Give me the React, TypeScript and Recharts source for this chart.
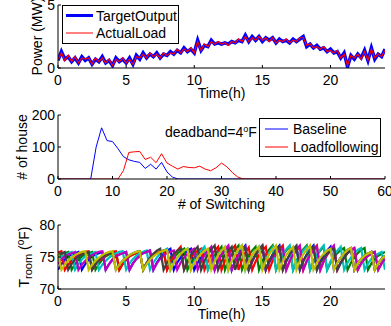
import React from 'react';
import { LineChart, Line, XAxis, YAxis, Legend } from 'recharts';

const FONT = '"Liberation Sans", Arial, Helvetica, sans-serif';
const FS = 14;

// ---------------- Panel 1: power (MW), sampled every 15 min over 24 h ----------------
const hourTicks = [0, 5, 10, 15, 20];
const powerTicks = [0, 5];
const targetOutputMW = [
  0.6, 1.3, 0.7, 0.9, 0.5, 0.8, 0.4, 0.9, 0.6, 0.8,
  0.3, 0.7, 0.5, 0.9, 0.4, 0.6, 0.2, 0.8, 0.5, 0.7,
  0.4, 0.8, 0.3, 1.0, 0.7, 1.2, 0.8, 1.1, 0.9, 1.2,
  0.8, 1.1, 1.0, 1.3, 1.1, 1.4, 1.2, 1.6, 1.3, 1.5,
  1.2, 2.2, 1.4, 1.8, 1.7, 2.2, 1.9, 2.0, 1.9, 2.0,
  1.9, 2.1, 2.0, 2.2, 2.1, 2.6, 2.1, 2.5, 2.2, 2.5,
  2.1, 2.4, 2.2, 2.4, 2.0, 2.3, 2.1, 2.2, 2.0, 2.3,
  2.1, 2.3, 2.5, 1.7, 1.9, 1.6, 1.8, 1.5, 1.6, 1.3,
  1.5, 1.2, 1.3, 0.8, 1.2, 0.1, 1.0, 0.7, 1.1, 0.8,
  1.4, 0.6, 1.6, 0.7, 1.1, 0.9, 1.5,
];
const actualLoadMW = [
  0.7, 1.2, 0.6, 1.0, 0.5, 0.9, 0.4, 0.8, 0.7, 0.8,
  0.3, 0.8, 0.5, 0.8, 0.4, 0.7, 0.2, 0.7, 0.5, 0.8,
  0.4, 0.7, 0.3, 0.9, 0.8, 1.1, 0.8, 1.2, 0.9, 1.1,
  0.8, 1.2, 1.0, 1.2, 1.1, 1.5, 1.2, 1.5, 1.3, 1.6,
  1.2, 2.1, 1.4, 1.9, 1.7, 2.1, 1.9, 2.1, 1.9, 2.0,
  1.8, 2.1, 2.0, 2.3, 2.1, 2.5, 2.1, 2.4, 2.2, 2.5,
  2.2, 2.4, 2.1, 2.4, 2.0, 2.2, 2.1, 2.3, 2.0, 2.2,
  2.1, 2.4, 2.4, 1.8, 1.9, 1.6, 1.7, 1.5, 1.7, 1.3,
  1.4, 1.2, 1.4, 0.8, 1.1, 0.2, 1.0, 0.8, 1.1, 0.7,
  1.3, 0.6, 1.5, 0.8, 1.1, 0.9, 1.4,
];
const SAMPLE_HOURS = 0.25;

// ---------------- Panel 2: histogram of number of switchings (0..60) ----------------
const switchTicks = [0, 10, 20, 30, 40, 50, 60];
const houseTicks = [0, 100, 200];
const baselineHouses = [
  0, 0, 0, 0, 0, 0, 0, 100, 160, 120,
  117, 95, 70, 60, 55, 52, 33, 46, 31, 52,
  22, 6, 0, 0, 0, 0, 0, 0, 0, 0,
  0, 0, 0, 0, 0, 0, 0, 0, 0, 0,
  0, 0, 0, 0, 0, 0, 0, 0, 0, 0,
  0, 0, 0, 0, 0, 0, 0, 0, 0, 0,
  0,
];
const loadFollowingHouses = [
  0, 0, 0, 0, 0, 0, 0, 0, 0, 0,
  0, 0, 26, 83, 85, 86, 61, 68, 51, 79,
  50, 40, 31, 39, 36, 35, 40, 31, 26, 35,
  50, 38, 20, 6, 0, 0, 0, 0, 0, 0,
  0, 0, 0, 0, 0, 0, 0, 0, 0, 0,
  0, 0, 0, 0, 0, 0, 0, 0, 0, 0,
  0,
];

// ---------------- Panel 3: room temperatures (°F), every 15 min ----------------
const roomTicks = [70, 75, 80];
const roomBlue = [
  73.0, 73.9, 74.6, 75.1, 75.4, 75.6, 75.8,
  73.0, 73.9, 74.6, 75.1, 75.4, 75.6, 75.8,
  73.0, 73.9, 74.6, 75.1, 75.4, 75.6, 75.8,
  73.0, 74.0, 74.7, 75.2, 75.6, 75.8, 76.0,
  73.0, 74.1, 74.9, 75.5, 76.0, 76.3,
  73.0, 74.1, 74.9, 75.5, 76.0, 76.3,
  73.0, 74.1, 74.9, 75.5, 76.0, 76.3,
  73.0, 74.3, 75.3, 76.0, 76.6,
  73.0, 74.4, 75.4, 76.2, 76.8,
  73.0, 74.3, 75.3, 76.0, 76.6,
  73.0, 74.4, 75.4, 76.2, 76.8,
  73.0, 74.3, 75.3, 76.0, 76.6,
  73.0, 74.4, 75.4, 76.2, 76.8,
  73.0, 74.3, 75.3, 76.0, 76.6,
  73.0, 74.1, 74.9, 75.6, 76.1, 76.4,
  73.0, 74.0, 74.7, 75.2, 75.5, 75.8,
  73.0, 74.0, 74.7, 75.2,
];
const roomGreen = [
  75.1, 75.4, 75.6, 75.8,
  73.0, 73.9, 74.6, 75.1, 75.4, 75.6, 75.8,
  73.0, 73.9, 74.6, 75.1, 75.4, 75.6, 75.8,
  73.0, 73.9, 74.6, 75.1, 75.4, 75.6, 75.8,
  73.0, 74.0, 74.7, 75.2, 75.6, 75.8, 76.0,
  73.0, 74.1, 74.9, 75.5, 76.0, 76.3,
  73.0, 74.1, 74.9, 75.5, 76.0, 76.3,
  73.0, 74.3, 75.3, 76.0, 76.6,
  73.0, 74.4, 75.4, 76.2, 76.8,
  73.0, 74.3, 75.3, 76.0, 76.6,
  73.0, 74.4, 75.4, 76.2, 76.8,
  73.0, 74.3, 75.3, 76.0, 76.6,
  73.0, 74.4, 75.4, 76.2, 76.8,
  73.0, 74.3, 75.3, 76.0, 76.6,
  73.0, 74.1, 74.9, 75.6, 76.1, 76.4,
  73.0, 74.1, 74.9, 75.6, 76.1, 76.4,
  73.0, 74.0, 74.7, 75.2, 75.5, 75.8,
];
const roomRed = [
  75.7, 75.9,
  73.0, 73.8, 74.4, 74.9, 75.3, 75.6, 75.8, 75.9,
  73.0, 73.8, 74.4, 74.9, 75.3, 75.6, 75.8, 75.9,
  73.0, 73.9, 74.6, 75.1, 75.4, 75.6, 75.8,
  73.0, 74.0, 74.7, 75.2, 75.6, 75.8, 76.0,
  73.0, 74.3, 75.3, 76.0, 76.6,
  73.0, 74.1, 74.9, 75.5, 76.0, 76.3,
  73.0, 74.3, 75.3, 76.0, 76.6,
  73.0, 74.4, 75.4, 76.2, 76.8,
  73.0, 74.5, 75.7, 76.5,
  73.0, 74.3, 75.3, 76.0, 76.6,
  73.0, 74.4, 75.4, 76.2, 76.8,
  73.0, 74.3, 75.3, 76.0, 76.6,
  73.0, 74.4, 75.4, 76.2, 76.8,
  73.0, 74.3, 75.3, 76.0, 76.6,
  73.0, 74.1, 74.9, 75.6, 76.1, 76.4,
  73.0, 74.0, 74.7, 75.2, 75.5, 75.8,
  73.0, 74.0, 74.7,
];
const roomCyan = [
  74.6, 75.1, 75.4, 75.6, 75.8,
  73.0, 73.9, 74.6, 75.1, 75.4, 75.6, 75.8,
  73.0, 73.8, 74.4, 74.9, 75.3, 75.6, 75.8, 75.9,
  73.0, 74.0, 74.7, 75.2, 75.6, 75.8, 76.0,
  73.0, 74.1, 74.9, 75.5, 76.0, 76.3,
  73.0, 74.1, 74.9, 75.5, 76.0, 76.3,
  73.0, 74.3, 75.3, 76.0, 76.6,
  73.0, 74.1, 74.9, 75.5, 76.0, 76.3,
  73.0, 74.4, 75.4, 76.2, 76.8,
  73.0, 74.3, 75.3, 76.0, 76.6,
  73.0, 74.5, 75.7, 76.5,
  73.0, 74.4, 75.4, 76.2, 76.8,
  73.0, 74.3, 75.3, 76.0, 76.6,
  73.0, 74.4, 75.4, 76.2, 76.8,
  73.0, 74.3, 75.3, 76.0, 76.6,
  73.0, 74.1, 74.9, 75.6, 76.1, 76.4,
  73.0, 74.0, 74.7, 75.2, 75.5, 75.8,
  73.0,
];
const roomMagenta = [
  73.9, 74.6, 75.1, 75.4, 75.6, 75.8,
  73.0, 73.8, 74.4, 74.9, 75.3, 75.6, 75.8, 75.9,
  73.0, 73.9, 74.6, 75.1, 75.4, 75.6, 75.8,
  73.0, 74.0, 74.7, 75.2, 75.6, 75.8, 76.0,
  73.0, 74.0, 74.7, 75.2, 75.6, 75.8, 76.0,
  73.0, 74.1, 74.9, 75.5, 76.0, 76.3,
  73.0, 74.3, 75.3, 76.0, 76.6,
  73.0, 74.4, 75.4, 76.2, 76.8,
  73.0, 74.3, 75.3, 76.0, 76.6,
  73.0, 74.4, 75.4, 76.2, 76.8,
  73.0, 74.1, 74.9, 75.5, 76.0, 76.3,
  73.0, 74.4, 75.4, 76.2, 76.8,
  73.0, 74.3, 75.3, 76.0, 76.6,
  73.0, 74.4, 75.4, 76.2, 76.8,
  73.0, 74.1, 74.9, 75.6, 76.1, 76.4,
  73.0, 74.0, 74.7, 75.2, 75.5, 75.8,
  73.0, 74.0, 74.7,
];
const roomGray = [
  75.4, 75.6, 75.8,
  73.0, 73.9, 74.6, 75.1, 75.4, 75.6, 75.8,
  73.0, 73.9, 74.6, 75.1, 75.4, 75.6, 75.8,
  73.0, 73.8, 74.4, 74.9, 75.3, 75.6, 75.8, 75.9,
  73.0, 74.1, 74.9, 75.5, 76.0, 76.3,
  73.0, 74.1, 74.9, 75.5, 76.0, 76.3,
  73.0, 74.3, 75.3, 76.0, 76.6,
  73.0, 74.4, 75.4, 76.2, 76.8,
  73.0, 74.3, 75.3, 76.0, 76.6,
  73.0, 74.5, 75.7, 76.5,
  73.0, 74.4, 75.4, 76.2, 76.8,
  73.0, 74.3, 75.3, 76.0, 76.6,
  73.0, 74.4, 75.4, 76.2, 76.8,
  73.0, 74.3, 75.3, 76.0, 76.6,
  73.0, 74.1, 74.9, 75.5, 76.0, 76.3,
  73.0, 74.1, 74.9, 75.6, 76.1,
  73.0, 74.0, 74.7, 75.2, 75.5, 75.8,
  73.0, 74.0, 74.7, 75.2,
];
const roomYellow = [
  75.6,
  73.0, 73.8, 74.4, 74.9, 75.3, 75.6, 75.8, 75.9,
  73.0, 73.8, 74.4, 74.9, 75.3, 75.6, 75.8, 75.9,
  73.0, 73.8, 74.4, 74.9, 75.3, 75.6, 75.8, 75.9,
  73.0, 73.9, 74.6, 75.1, 75.5, 75.8, 76.0, 76.1,
  73.0, 74.1, 74.9, 75.5, 76.0, 76.3,
  73.0, 74.1, 74.9, 75.5, 76.0, 76.3,
  73.0, 74.3, 75.3, 76.0, 76.6,
  73.0, 74.4, 75.4, 76.2, 76.8,
  73.0, 74.3, 75.3, 76.0, 76.6,
  73.0, 74.4, 75.4, 76.2, 76.8,
  73.0, 74.3, 75.3, 76.0, 76.6,
  73.0, 74.4, 75.4, 76.2, 76.8,
  73.0, 74.1, 74.9, 75.5, 76.0, 76.3,
  73.0, 74.1, 74.9, 75.6, 76.1, 76.4,
  73.0, 74.0, 74.7, 75.2, 75.5, 75.8,
  73.0, 74.0, 74.7, 75.2,
];

const roomSeries = [
  { key: 'blue', values: roomBlue, color: '#0000ff' },
  { key: 'green', values: roomGreen, color: '#008000' },
  { key: 'red', values: roomRed, color: '#ff0000' },
  { key: 'cyan', values: roomCyan, color: '#00bfbf' },
  { key: 'magenta', values: roomMagenta, color: '#bf00bf' },
  { key: 'gray', values: roomGray, color: '#404040' },
  { key: 'yellow', values: roomYellow, color: '#bfbf00' },
];

// ---------------- tables built from the arrays ----------------
const powerData = targetOutputMW.map((v, i) => ({
  t: i * SAMPLE_HOURS,
  target: v,
  actual: actualLoadMW[i],
}));
const switchData = baselineHouses.map((v, i) => ({
  n: i,
  baseline: v,
  loadfollowing: loadFollowingHouses[i],
}));
const roomData = roomBlue.map((_, i) => {
  const row: Record<string, number> = { t: i * SAMPLE_HOURS };
  roomSeries.forEach((s) => {
    row[s.key] = s.values[i];
  });
  return row;
});

// ---------------- axis helpers ----------------
const txt = { fontSize: FS, fontFamily: FONT, fill: '#000' };

const XTickBottom = (props: any) => {
  const { x, y, payload } = props;
  return (
    <g>
      <line x1={x} x2={x} y1={y} y2={y - 3} stroke="#000" strokeWidth={1} />
      <text x={x} y={y + 17} textAnchor="middle" {...txt}>
        {payload.value}
      </text>
    </g>
  );
};
const XTickTop = (props: any) => {
  const { x, y } = props;
  return <line x1={x} x2={x} y1={y} y2={y + 3} stroke="#000" strokeWidth={1} />;
};
const YTickLeft = (props: any) => {
  const { x, y, payload } = props;
  return (
    <g>
      <line x1={x} x2={x + 3} y1={y} y2={y} stroke="#000" strokeWidth={1} />
      <text x={x - 3} y={y} dy="0.36em" textAnchor="end" {...txt}>
        {payload.value}
      </text>
    </g>
  );
};
const YTickRight = (props: any) => {
  const { x, y } = props;
  return <line x1={x} x2={x - 3} y1={y} y2={y} stroke="#000" strokeWidth={1} />;
};

const xTitle = (text: string) => (p: any) => {
  const vb = p.viewBox || {};
  return (
    <text x={vb.x + vb.width / 2} y={vb.y + 30} textAnchor="middle" {...txt}>
      {text}
    </text>
  );
};
const yTitle = (content: React.ReactNode, baseX: number) => (p: any) => {
  const vb = p.viewBox || {};
  const cy = vb.y + vb.height / 2;
  return (
    <text
      x={baseX}
      y={cy}
      transform={`rotate(-90 ${baseX} ${cy})`}
      textAnchor="middle"
      {...txt}
    >
      {content}
    </text>
  );
};

const axisLine = { stroke: '#000', strokeWidth: 1 };

const PowerLegend = () => (
  <svg width={117} height={39} style={{ display: 'block' }}>
    <rect x={0.5} y={0.5} width={116} height={38} fill="#fff" stroke="#000" />
    <line x1={4} x2={31} y1={10.5} y2={10.5} stroke="#0000ff" strokeWidth={3} />
    <text x={34} y={15.5} {...txt}>TargetOutput</text>
    <line x1={4} x2={31} y1={28} y2={28} stroke="#ff0000" strokeWidth={1} />
    <text x={34} y={33} {...txt}>ActualLoad</text>
  </svg>
);

const SwitchLegend = () => (
  <svg width={122} height={39} style={{ display: 'block' }}>
    <rect x={0.5} y={0.5} width={121} height={38} fill="#fff" stroke="#000" />
    <line x1={6} x2={29} y1={11} y2={11} stroke="#0000ff" strokeWidth={1} />
    <text x={34} y={16} {...txt}>Baseline</text>
    <line x1={6} x2={29} y1={29} y2={29} stroke="#ff0000" strokeWidth={1} />
    <text x={34} y={34} {...txt}>Loadfollowing</text>
  </svg>
);

export default function App() {
  return (
    <div
      style={{
        position: 'absolute',
        left: 0,
        top: 0,
        width: 391,
        height: 326,
        background: '#fff',
        fontFamily: FONT,
        overflow: 'hidden',
      }}
    >
      {/* Panel 1 */}
      <div style={{ position: 'absolute', left: 0, top: 0 }}>
        <LineChart width={391} height={103} data={powerData} margin={{ top: 5, right: 6, bottom: 0, left: 0 }}>
          <XAxis
            xAxisId="b"
            dataKey="t"
            type="number"
            domain={[0, 24]}
            allowDataOverflow
            ticks={hourTicks}
            interval={0}
            tickSize={0}
            tickMargin={0}
            tickLine={false}
            tick={<XTickBottom />}
            axisLine={axisLine}
            height={35}
            label={{ content: xTitle('Time(h)') }}
          />
          <XAxis
            xAxisId="t"
            orientation="top"
            dataKey="t"
            type="number"
            domain={[0, 24]}
            allowDataOverflow
            ticks={hourTicks}
            interval={0}
            tickSize={0}
            tickMargin={0}
            tickLine={false}
            tick={<XTickTop />}
            axisLine={axisLine}
            height={0}
          />
          <YAxis
            yAxisId="l"
            type="number"
            domain={[0, 5]}
            allowDataOverflow
            ticks={powerTicks}
            interval={0}
            tickSize={0}
            tickMargin={0}
            tickLine={false}
            tick={<YTickLeft />}
            axisLine={axisLine}
            width={58}
            label={{ content: yTitle('Power (MW)', 41.5) }}
          />
          <YAxis
            yAxisId="r"
            orientation="right"
            type="number"
            domain={[0, 5]}
            allowDataOverflow
            ticks={powerTicks}
            interval={0}
            tickSize={0}
            tickMargin={0}
            tickLine={false}
            tick={<YTickRight />}
            axisLine={axisLine}
            width={0}
          />
          <Line xAxisId="b" yAxisId="l" type="linear" dataKey="target" name="TargetOutput" stroke="#0000ff" strokeWidth={3.5} dot={false} isAnimationActive={false} />
          <Line xAxisId="b" yAxisId="l" type="linear" dataKey="actual" name="ActualLoad" stroke="#ff0000" strokeWidth={1.2} dot={false} isAnimationActive={false} />
          <Legend
            layout="horizontal"
            verticalAlign="middle"
            align="center"
            content={() => <PowerLegend />}
            wrapperStyle={{ left: 62, top: 5, width: 117, height: 39 }}
          />
        </LineChart>
      </div>

      {/* Panel 2 */}
      <div style={{ position: 'absolute', left: 0, top: 105 }}>
        <LineChart width={391} height={110} data={switchData} margin={{ top: 10, right: 6, bottom: 0, left: 0 }}>
          <XAxis
            xAxisId="b"
            dataKey="n"
            type="number"
            domain={[0, 60]}
            allowDataOverflow
            ticks={switchTicks}
            interval={0}
            tickSize={0}
            tickMargin={0}
            tickLine={false}
            tick={<XTickBottom />}
            axisLine={axisLine}
            height={36}
            label={{ content: xTitle('# of Switching') }}
          />
          <XAxis
            xAxisId="t"
            orientation="top"
            dataKey="n"
            type="number"
            domain={[0, 60]}
            allowDataOverflow
            ticks={switchTicks}
            interval={0}
            tickSize={0}
            tickMargin={0}
            tickLine={false}
            tick={<XTickTop />}
            axisLine={axisLine}
            height={0}
          />
          <YAxis
            yAxisId="l"
            type="number"
            domain={[0, 200]}
            allowDataOverflow
            ticks={houseTicks}
            interval={0}
            tickSize={0}
            tickMargin={0}
            tickLine={false}
            tick={<YTickLeft />}
            axisLine={axisLine}
            width={58}
            label={{ content: yTitle('# of house', 27) }}
          />
          <YAxis
            yAxisId="r"
            orientation="right"
            type="number"
            domain={[0, 200]}
            allowDataOverflow
            ticks={houseTicks}
            interval={0}
            tickSize={0}
            tickMargin={0}
            tickLine={false}
            tick={<YTickRight />}
            axisLine={axisLine}
            width={0}
          />
          <Line xAxisId="b" yAxisId="l" type="linear" dataKey="baseline" name="Baseline" stroke="#0000ff" strokeWidth={1} dot={false} isAnimationActive={false} />
          <Line xAxisId="b" yAxisId="l" type="linear" dataKey="loadfollowing" name="Loadfollowing" stroke="#ff0000" strokeWidth={1} dot={false} isAnimationActive={false} />
          <Legend
            layout="horizontal"
            verticalAlign="middle"
            align="center"
            content={() => <SwitchLegend />}
            wrapperStyle={{ left: 259, top: 13, width: 122, height: 39 }}
          />
        </LineChart>
      </div>

      {/* Panel 3 */}
      <div style={{ position: 'absolute', left: 0, top: 215 }}>
        <LineChart width={391} height={111} data={roomData} margin={{ top: 10, right: 6, bottom: 0, left: 0 }}>
          <XAxis
            xAxisId="b"
            dataKey="t"
            type="number"
            domain={[0, 24]}
            allowDataOverflow
            ticks={hourTicks}
            interval={0}
            tickSize={0}
            tickMargin={0}
            tickLine={false}
            tick={<XTickBottom />}
            axisLine={axisLine}
            height={37}
            label={{ content: xTitle('Time(h)') }}
          />
          <XAxis
            xAxisId="t"
            orientation="top"
            dataKey="t"
            type="number"
            domain={[0, 24]}
            allowDataOverflow
            ticks={hourTicks}
            interval={0}
            tickSize={0}
            tickMargin={0}
            tickLine={false}
            tick={<XTickTop />}
            axisLine={axisLine}
            height={0}
          />
          <YAxis
            yAxisId="l"
            type="number"
            domain={[70, 80]}
            allowDataOverflow
            ticks={roomTicks}
            interval={0}
            tickSize={0}
            tickMargin={0}
            tickLine={false}
            tick={<YTickLeft />}
            axisLine={axisLine}
            width={58}
            label={{
              content: yTitle(
                <>
                  <tspan>T</tspan>
                  <tspan fontSize={11} dy={3}>room</tspan>
                  <tspan dy={-3}> (</tspan>
                  <tspan fontSize={10} dy={-5}>o</tspan>
                  <tspan dy={5}>F)</tspan>
                </>,
                28.5
              ),
            }}
          />
          <YAxis
            yAxisId="r"
            orientation="right"
            type="number"
            domain={[70, 80]}
            allowDataOverflow
            ticks={roomTicks}
            interval={0}
            tickSize={0}
            tickMargin={0}
            tickLine={false}
            tick={<YTickRight />}
            axisLine={axisLine}
            width={0}
          />
          {roomSeries.map((s) => (
            <Line
              key={s.key}
              xAxisId="b"
              yAxisId="l"
              type="linear"
              dataKey={s.key}
              stroke={s.color}
              strokeWidth={2.2}
              dot={false}
              isAnimationActive={false}
            />
          ))}
        </LineChart>
      </div>

      {/* annotation in panel 2 */}
      <svg
        width={391}
        height={326}
        style={{ position: 'absolute', left: 0, top: 0, pointerEvents: 'none' }}
      >
        <text x={165} y={137} {...txt}>
          deadband=4
          <tspan fontSize={9} dy={-5}>o</tspan>
          <tspan dy={5}>F</tspan>
        </text>
      </svg>
    </div>
  );
}
